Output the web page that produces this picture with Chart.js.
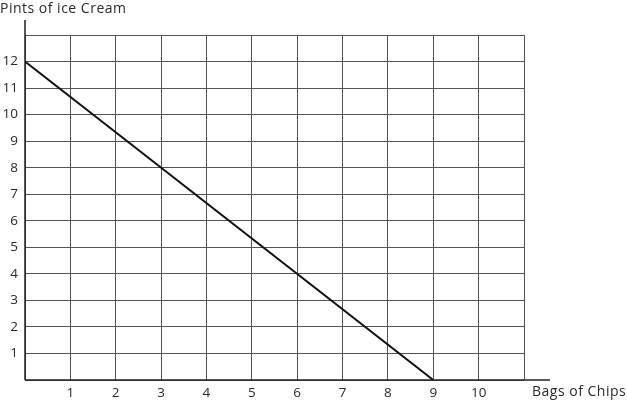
<!DOCTYPE html>
<html>
<head>
<meta charset="utf-8">
<script src="https://cdn.jsdelivr.net/npm/chart.js@4/dist/chart.umd.min.js"></script>
<style>
  html, body { margin: 0; padding: 0; background: #fff; }
  #wrap { width: 627px; height: 402px; position: relative; }
</style>
</head>
<body>
<div id="wrap"><canvas id="c" width="627" height="402"></canvas></div>
<script>
// Data
const bagsOfChips = [0, 9];
const pintsOfIceCream = [12, 0];
const xTickLabels = [1, 2, 3, 4, 5, 6, 7, 8, 9, 10];
const yTickLabels = [1, 2, 3, 4, 5, 6, 7, 8, 9, 10, 11, 12];
const xAxisTitle = 'Bags of Chips';
const yAxisTitle = 'Pints of ice Cream';

const FONT = '"Open Sans", "Liberation Sans", sans-serif';
const TEXT = '#2b2b2b';

const extras = {
  id: 'extras',
  afterDraw(chart) {
    const ctx = chart.ctx;
    const a = chart.chartArea;
    ctx.save();
    ctx.strokeStyle = '#222';
    ctx.lineWidth = 1.5;
    ctx.beginPath();
    ctx.moveTo(a.left, a.bottom);
    ctx.lineTo(a.right + 26, a.bottom);
    ctx.moveTo(a.left, a.bottom);
    ctx.lineTo(a.left, a.top - 15);
    ctx.stroke();
    ctx.fillStyle = TEXT;
    ctx.font = '14px ' + FONT;
    try { ctx.letterSpacing = '0.5px'; } catch (e) {}
    ctx.textBaseline = 'middle';
    ctx.textAlign = 'left';
    ctx.fillText(yAxisTitle, 0, 9);
    ctx.fillText(xAxisTitle, 532, 392);
    ctx.restore();
  }
};

new Chart(document.getElementById('c'), {
  type: 'scatter',
  data: {
    datasets: [{
      data: bagsOfChips.map((x, i) => ({ x: x, y: pintsOfIceCream[i] })),
      showLine: true,
      borderColor: '#111',
      borderWidth: 2,
      pointRadius: 0,
      fill: false
    }]
  },
  plugins: [extras],
  options: {
    responsive: false,
    animation: false,
    layout: { padding: { top: 35, right: 103, left: 0, bottom: 0 } },
    plugins: { legend: { display: false }, tooltip: { enabled: false } },
    scales: {
      x: {
        type: 'linear',
        min: 0, max: 11,
        afterBuildTicks(s) { s.ticks = Array.from({length: 12}, (_, i) => ({ value: i })); },
        afterFit(s) { s.height = 22; },
        border: { display: false },
        grid: { color: '#555', lineWidth: 1, drawTicks: false },
        ticks: {
          padding: 5,
          color: TEXT,
          font: { family: FONT, size: 13.5 },
          autoSkip: false,
          maxRotation: 0,
          callback: (v) => xTickLabels.includes(v) ? String(v) : ''
        }
      },
      y: {
        type: 'linear',
        min: 0, max: 13,
        afterBuildTicks(s) { s.ticks = Array.from({length: 14}, (_, i) => ({ value: i })); },
        afterFit(s) { s.width = 25; },
        border: { display: false },
        grid: { color: '#555', lineWidth: 1, drawTicks: false },
        ticks: {
          padding: 7,
          color: TEXT,
          font: { family: FONT, size: 13.5 },
          autoSkip: false,
          callback: (v) => yTickLabels.includes(v) ? String(v) : ''
        }
      }
    }
  }
});
</script>
</body>
</html>
